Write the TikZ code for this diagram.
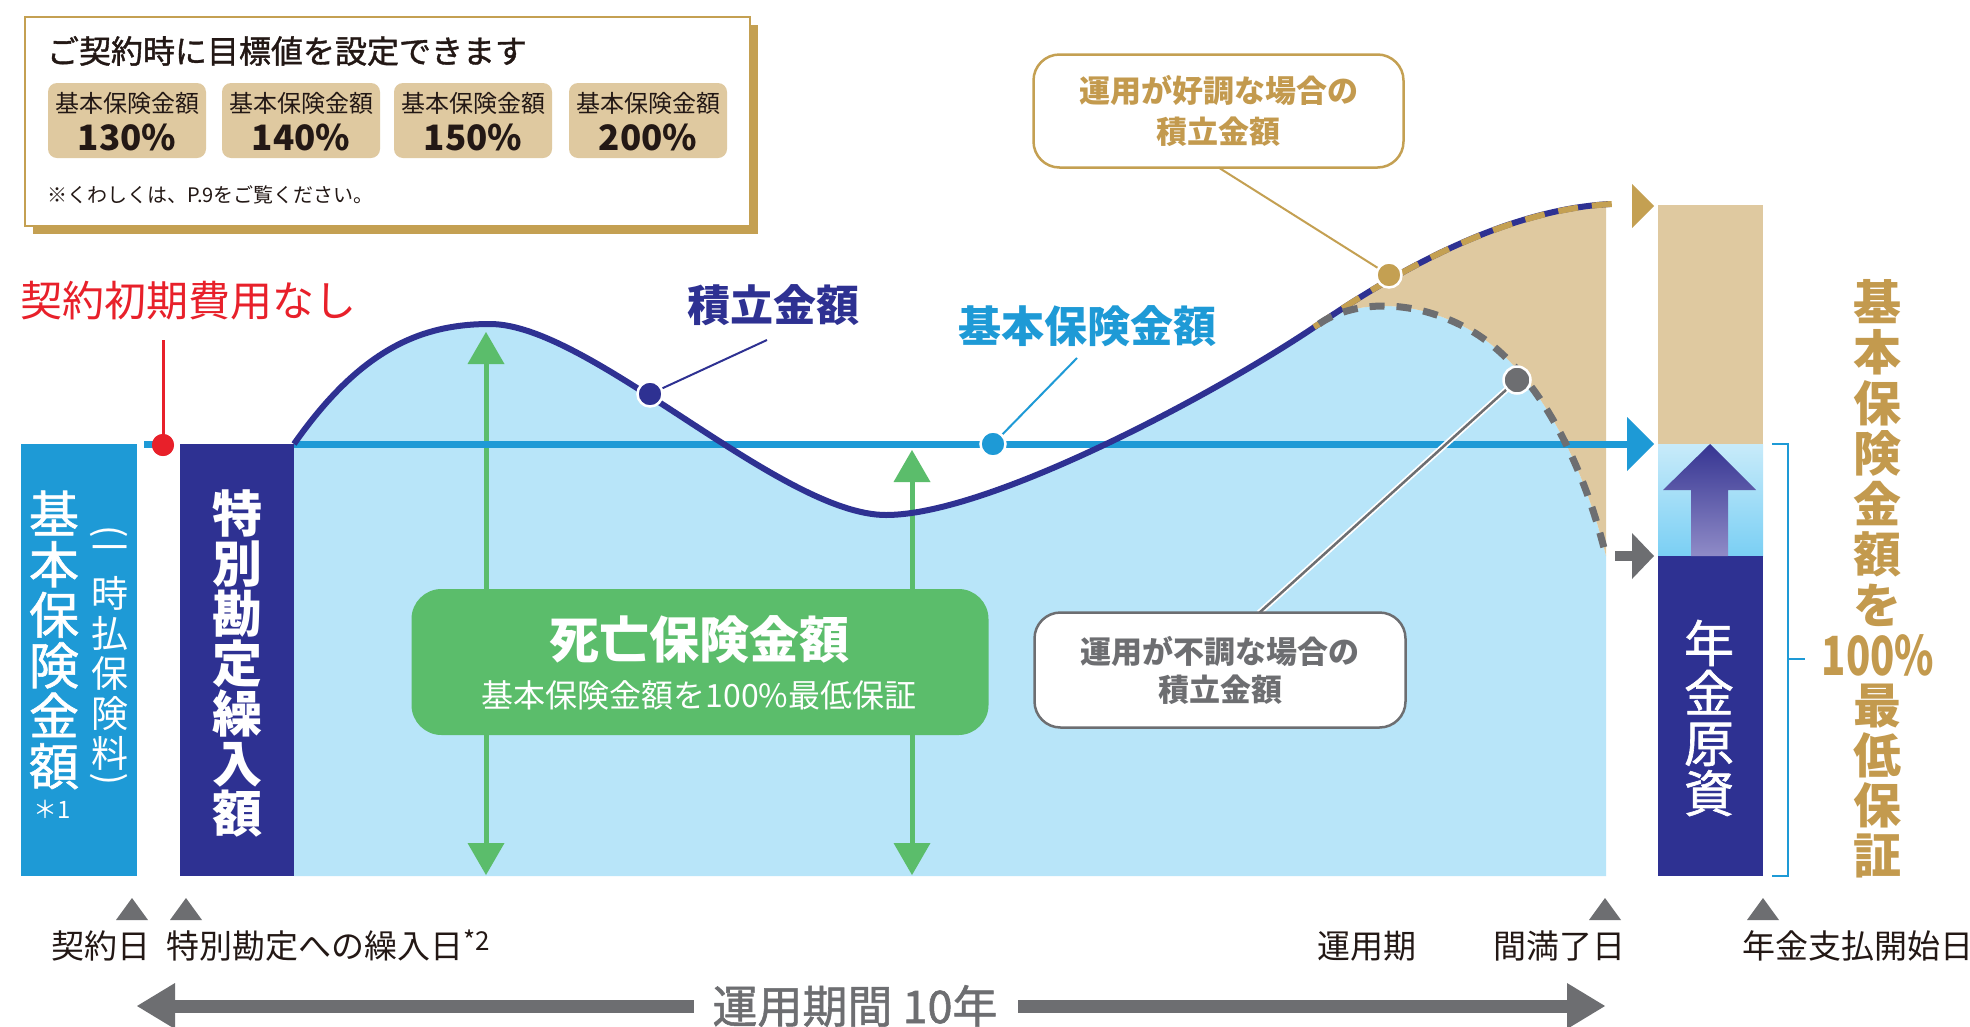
\documentclass[tikz,border=0pt]{standalone}
\usepackage{fontspec}
\setmainfont{Noto Sans CJK JP}
\newfontfamily\jpm[FakeBold=1.2]{Noto Sans CJK JP}
\newcommand\fsz[2]{\fontsize{#1}{#2}\selectfont}
\definecolor{navy}{HTML}{2E3192}
\definecolor{skyb}{HTML}{1E9AD6}
\definecolor{lightb}{HTML}{B8E5F9}
\definecolor{tanc}{HTML}{DFC9A0}
\definecolor{gold}{HTML}{C4A052}
\definecolor{goldtxt}{HTML}{C39A4E}
\definecolor{greenc}{HTML}{5BBD6B}
\definecolor{greyc}{HTML}{6D6E71}
\definecolor{redc}{HTML}{E8202A}
\definecolor{ink}{HTML}{231815}
\definecolor{lbtop}{HTML}{C8EBFA}
\definecolor{lbbot}{HTML}{7ACFF4}
\definecolor{arrtop}{HTML}{363592}
\definecolor{arrbot}{HTML}{8F8BC7}
\begin{document}
\begin{tikzpicture}[x=1pt,y=-1pt,
  every node/.style={inner sep=0pt,outer sep=0pt},
  vtxt/.style={align=center},
  dotn/.style={circle, draw=white, line width=2.5pt, minimum size=#1},
  marker/.style={fill=greyc},
  datelbl/.style={anchor=west, text=ink, font=\fsz{33}{33}}
]
\useasboundingbox (0,0) rectangle (1970,1026);
\fill[white] (0,0) rectangle (1970,1026);

% ---------- top panel ----------
\fill[gold] (33,25) rectangle (758,234);
\draw[gold, line width=2pt, fill=white] (25,17) rectangle (750,226);
\node[anchor=west, text=ink, font=\jpm\fsz{32}{32}] (title) at (47,51) {ご契約時に目標値を設定できます};
\foreach \x/\v in {48/130,222/140,394/150,569/200}{
  \node[fill=tanc, rounded corners=9pt, minimum width=158pt, minimum height=75pt] (tb\v) at (\x+79,120.5) {};
  \node[text=ink, font=\fsz{24}{24}] at (\x+79,103) {基本保険金額};
  \node[text=ink, font=\bfseries\fsz{35}{35}] at (\x+79,137) {\v\%};
}
\node[anchor=west, text=ink, font=\fsz{20}{20}] (note) at (47,195) {※くわしくは、P.9をご覧ください。};

% ---------- fills ----------
\fill[lightb] (294,876) -- (294,444) .. controls (360,350) and (420,324) .. (490,324)
  .. controls (590,324) and (780,515) .. (886,515)
  .. controls (990,515) and (1219,392) .. (1319,324)
  .. controls (1350,302) and (1410,296) .. (1470,330)
  .. controls (1530,364) and (1580,450) .. (1606,556) -- (1606,876) -- cycle;
\fill[tanc] (1319,324) .. controls (1390,276) and (1500,210) .. (1606,204) -- (1606,556)
  .. controls (1580,450) and (1530,364) .. (1470,330)
  .. controls (1410,296) and (1350,302) .. (1319,324) -- cycle;

% ---------- left boxes ----------
\node[fill=skyb, minimum width=116pt, minimum height=432pt] (bbox) at (79,660) {};
\node[vtxt, text=white, font=\jpm\fsz{50}{50.5}] (bmain) at (54,640) {基\\本\\保\\険\\金\\額};
\node[text=white, font=\fsz{24}{24}] (bstar) at (52,809) {＊1};
\node[text=white, font=\fsz{37}{37}, rotate=-90] (bpl) at (109,532) {(};
\node[text=white, font=\fsz{37}{37}] (bone) at (110,554) {一};
\node[vtxt, text=white, font=\fsz{37}{40}] (bsub) at (110,673.5) {時\\払\\保\\険\\料};
\node[text=white, font=\fsz{37}{37}, rotate=90] (bpr) at (109,779) {(};

\node[fill=navy, minimum width=114pt, minimum height=432pt] (nbox) at (237,660) {};
\node[vtxt, text=white, font=\bfseries\fsz{50}{50}] (ntxt) at (237,663) {特\\別\\勘\\定\\繰\\入\\額};

% red label
\node[text=redc, font=\fsz{42}{42}] (nofee) at (188,301) {契約初期費用なし};
\draw[skyb, line width=7pt] (144,444) -- (160,444);
\coordinate (redtop) at (163,340);
\node[circle, fill=redc, minimum size=22pt] (reddot) at (163,445) {};
\draw[redc, line width=3pt] (redtop) -- (reddot.center);
\node[circle, fill=redc, minimum size=22pt] at (reddot) {};

% ---------- green arrows & box ----------
\coordinate (ga1t) at (486,332); \coordinate (ga1b) at (486,875);
\coordinate (ga2t) at (912,450); \coordinate (ga2b) at (912,875);
\draw[greenc, line width=5pt] ([yshift=-20pt]ga1t) -- ([yshift=20pt]ga1b);
\draw[greenc, line width=5pt] ([yshift=-20pt]ga2t) -- ([yshift=20pt]ga2b);
\foreach \c in {ga1t,ga2t}{ \fill[greenc] (\c) -- ++(18.5,32) -- ++(-37,0) -- cycle; }
\foreach \c in {ga1b,ga2b}{ \fill[greenc] (\c) -- ++(18.5,-32) -- ++(-37,0) -- cycle; }
\node[fill=greenc, rounded corners=30pt, minimum width=577pt, minimum height=146pt] (gbox) at (700,662) {};
\node[text=white, font=\bfseries\fsz{50}{50}] (gtitle) at (699,640) {死亡保険金額};
\node[text=white, font=\fsz{32}{32}] (gsub) at (699,695) {基本保険金額を100\%最低保証};

% ---------- lines ----------
\draw[skyb, line width=7pt] (294,444) -- (1630,444);
\fill[skyb] (1627,417) -- (1654,444) -- (1627,471) -- cycle;
\draw[navy, line width=6pt] (294,444) .. controls (360,350) and (420,324) .. (490,324)
  .. controls (590,324) and (780,515) .. (886,515)
  .. controls (990,515) and (1219,392) .. (1319,324)
  .. controls (1390,276) and (1500,210) .. (1610,204);
\draw[gold, line width=6pt, dash pattern=on 20pt off 14pt] (1314,327) -- (1319,324)
  .. controls (1390,276) and (1500,210) .. (1612,204);
\draw[greyc, line width=7pt, dash pattern=on 15pt off 12pt] (1319,324)
  .. controls (1350,302) and (1410,296) .. (1470,330)
  .. controls (1530,364) and (1580,450) .. (1606,556);

% right arrows
\fill[gold] (1632,184) -- (1654,206) -- (1632,228) -- cycle;
\draw[greyc, line width=10pt] (1615,556) -- (1634,556);
\fill[greyc] (1632,533) -- (1654,556) -- (1632,579) -- cycle;

% ---------- right column ----------
\fill[tanc] (1658,205) rectangle (1763,444);
\shade[top color=lbtop, bottom color=lbbot] (1658,444) rectangle (1763,556);
\fill[navy] (1658,556) rectangle (1763,876);
\shade[top color=arrtop, bottom color=arrbot] (1710,444) -- (1756,490) -- (1728,490) -- (1728,556)
  -- (1691,556) -- (1691,490) -- (1663,490) -- cycle;
\node[vtxt, text=white, font=\jpm\fsz{50}{50}] (pension) at (1709,718) {年\\金\\原\\資};
\draw[skyb, line width=2.5pt] (1772,444) -- (1788,444) -- (1788,876) -- (1772,876);
\draw[skyb, line width=2.5pt] (1788,659) -- (1805,659);
\node[vtxt, text=goldtxt, font=\bfseries\fsz{48}{50.5}] (gv1) at (1877,453) {基\\本\\保\\険\\金\\額\\を};
\node[text=goldtxt, font=\bfseries\fsz{54}{54}] (gv2) at (1878,655) {\scalebox{0.74}[1]{100\%}};
\node[vtxt, text=goldtxt, font=\bfseries\fsz{48}{50}] (gv3) at (1877,781) {最\\低\\保\\証};

% ---------- labels, leaders, dots ----------
\node[text=navy, font=\bfseries\fsz{43}{43}] (lnavy) at (773,305) {積立金額};
\node[text=skyb, font=\bfseries\fsz{43}{43}] (lblue) at (1087,326) {基本保険金額};
\coordinate (lnavyend) at (767,340);
\coordinate (lblueend) at (1077,358);
\node[draw=gold, line width=2.5pt, fill=white, rounded corners=26pt, minimum width=370pt, minimum height=113pt, align=center, text=goldtxt, font=\bfseries\fsz{31}{41}] (goodbox) at (1218.5,111) {運用が好調な場合の\\積立金額};
\coordinate (dnavyc) at (650,394);
\coordinate (dbluec) at (993,444);
\coordinate (dgoldc) at (1389,275);
\coordinate (dgreyc) at (1517,380);
\draw[navy, line width=2pt] (lnavyend) -- (dnavyc);
\draw[skyb, line width=2pt] (lblueend) -- (dbluec);
\draw[gold, line width=2pt] (goodbox.south) -- (dgoldc);
\coordinate (badtop) at (1259,613);
\draw[white, line width=6pt] (badtop) -- (dgreyc);
\draw[greyc, line width=2.5pt] (badtop) -- (dgreyc);
\node[draw=greyc, line width=2.5pt, fill=white, rounded corners=26pt, minimum width=371pt, minimum height=115pt, align=center, text=greyc, font=\bfseries\fsz{31}{38}] (badbox) at (1220,670) {運用が不調な場合の\\積立金額};
\node[dotn=25pt, fill=navy] (dnavy) at (dnavyc) {};
\node[dotn=25pt, fill=skyb] (dblue) at (dbluec) {};
\node[dotn=25pt, fill=gold] (dgold) at (dgoldc) {};
\node[dotn=27pt, fill=greyc] (dgrey) at (dgreyc) {};

% ---------- bottom ----------
\foreach \x in {132,186,1605,1763}{ \fill[marker] (\x,898) -- (\x+16,920) -- (\x-16,920) -- cycle; }
\node[datelbl] (d1) at (51,946) {契約日};
\node[datelbl] (d2) at (166,946) {特別勘定への繰入日\raisebox{8pt}{\fsz{26}{26}*2}};
\node[datelbl] (d3) at (1317,946) {運用期};
\node[datelbl] (d4) at (1493,946) {間満了日};
\node[datelbl] (d5) at (1742,946) {年金支払開始日};
\node[text=greyc, font=\jpm\fsz{45}{45}] (period) at (855,1006) {運用期間 10年};
\coordinate (pL) at (137,1006); \coordinate (pR) at (1605,1006);
\draw[greyc, line width=13pt] ([xshift=37pt]pL) -- ([xshift=-18pt]period.west);
\draw[greyc, line width=13pt] ([xshift=-37pt]pR) -- ([xshift=20pt]period.east);
\fill[greyc] (pL) -- ++(38,-23) -- ++(0,46) -- cycle;
\fill[greyc] (pR) -- ++(-38,-23) -- ++(0,46) -- cycle;
\end{tikzpicture}
\end{document}
